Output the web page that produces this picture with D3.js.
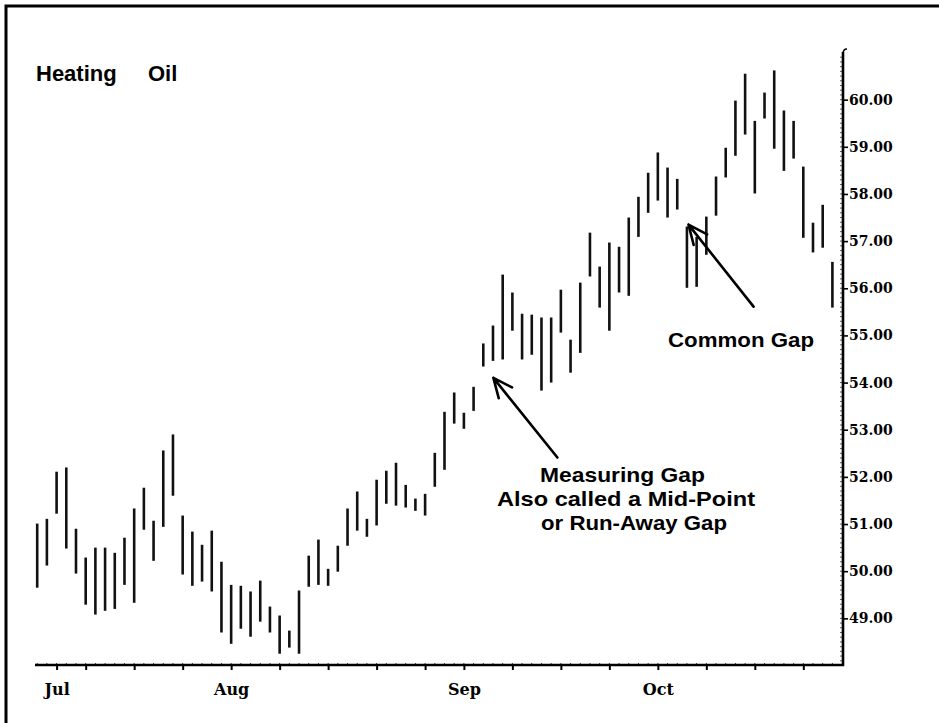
<!DOCTYPE html>
<html>
<head>
<meta charset="utf-8">
<script src="https://cdn.jsdelivr.net/npm/d3@7"></script>
<style>
  html, body { margin: 0; padding: 0; background: #fff; }
  svg { display: block; }
</style>
</head>
<body>
<svg id="chart" width="939" height="723"></svg>
<script>
// ---- data ----
const title = ["Heating", "Oil"];
const highs = [51.01,51.11,52.11,52.20,50.90,50.29,50.50,50.50,50.39,50.71,
               51.33,51.77,51.07,52.56,52.90,51.18,50.84,50.56,50.86,50.20,
               49.71,49.69,49.57,49.80,49.25,49.06,48.74,49.59,50.33,50.67,
               50.05,50.54,51.33,51.69,51.11,51.94,52.13,52.30,51.83,51.54,
               51.64,52.51,53.38,53.79,53.36,53.91,54.83,55.21,56.29,55.91,
               55.46,55.44,55.38,55.38,55.97,54.91,56.12,57.18,56.46,56.97,
               56.88,57.50,57.94,58.45,58.88,58.56,58.32,57.31,57.09,57.52,
               58.37,58.98,59.98,60.55,59.55,60.15,60.62,59.77,59.55,58.58,
               57.39,57.77,56.56];
const lows  = [49.65,50.12,51.22,50.48,49.95,49.29,49.08,49.16,49.20,49.71,
               49.33,50.88,50.22,50.94,51.60,49.93,49.69,49.78,49.57,48.70,
               48.46,48.78,48.61,48.93,48.70,48.25,48.38,48.25,49.67,49.71,
               49.69,49.99,50.54,50.86,50.73,50.97,51.43,51.39,51.35,51.28,
               51.18,51.79,52.15,53.13,53.02,53.40,54.34,54.46,54.49,55.10,
               54.49,54.59,53.83,54.00,55.06,54.21,54.63,56.25,55.59,55.10,
               55.91,55.84,57.09,57.60,57.86,57.50,57.67,56.01,56.03,56.71,
               57.54,58.35,58.81,59.26,58.01,59.60,58.96,58.49,58.75,57.07,
               56.76,56.86,55.59];
const yTickValues = [49,50,51,52,53,54,55,56,57,58,59,60];
const xTickIndex  = [2,5,10,15,20,25,30,35,40,44,49,54,59,64,69,74,79];
const monthIndex  = [2,20,44,64];
const monthLabels = ["Jul","Aug","Sep","Oct"];
const measuringLines = ["Measuring Gap","Also called a Mid-Point","or Run-Away Gap"];
const commonLabel = "Common Gap";
// arrow anchor values: [barIndex, price] for tail and tip
const measuringArrow = {tail:[53.64,52.41], tip:[47.04,54.10]};
const commonArrow    = {tail:[73.87,55.61], tip:[67.16,57.35]};

// ---- scales ----
const svg = d3.select("#chart");
const x = d3.scaleLinear().domain([0, highs.length - 1]).range([37.2, 832.4]);
const y = d3.scaleLinear().domain([48, 61]).range([665.5, 52.5]);
const axisX = 843, axisY = 665;

// frame
svg.append("rect").attr("x", 6).attr("y", 6).attr("width", 960).attr("height", 760)
  .attr("fill", "none").attr("stroke", "#000").attr("stroke-width", 3);

// bars
const bars = highs.map((h, i) => ({i, h, l: lows[i]}));
svg.append("g").selectAll("line").data(bars).join("line")
  .attr("x1", d => x(d.i)).attr("x2", d => x(d.i))
  .attr("y1", d => y(d.h)).attr("y2", d => y(d.l))
  .attr("stroke", "#111").attr("stroke-width", 2.6);

// right axis
const yAxis = d3.axisRight(y).tickValues(yTickValues).tickSize(5).tickPadding(1)
  .tickFormat(d3.format(".2f"));
const gy = svg.append("g").attr("transform", `translate(${axisX},0)`).call(yAxis);
gy.select(".domain").remove();
gy.selectAll(".tick line").attr("stroke", "#000").attr("stroke-width", 1.6);
gy.selectAll(".tick text").attr("font-family", "'DejaVu Serif', serif")
  .attr("font-weight", "bold").attr("font-size", 14).attr("fill", "#000");
// minor hatch on right axis
const minor = d3.range(48.1, 61, 0.1);
svg.append("g").selectAll("line").data(minor).join("line")
  .attr("x1", axisX - 3).attr("x2", axisX)
  .attr("y1", d => y(d)).attr("y2", d => y(d))
  .attr("stroke", "#333").attr("stroke-width", 0.8);
svg.append("line").attr("x1", axisX).attr("x2", axisX).attr("y1", 52).attr("y2", axisY + 1)
  .attr("stroke", "#000").attr("stroke-width", 2.6);
svg.append("path").attr("d", `M${axisX},54 q0,-5 4,-5`).attr("fill", "none")
  .attr("stroke", "#000").attr("stroke-width", 1.5);

// bottom axis
const xAxis = d3.axisBottom(x).tickValues(xTickIndex).tickSize(5)
  .tickFormat(d => { const k = monthIndex.indexOf(d); return k >= 0 ? monthLabels[k] : ""; });
const gx = svg.append("g").attr("transform", `translate(0,${axisY})`).call(xAxis);
gx.select(".domain").remove();
gx.selectAll(".tick line").attr("stroke", "#000").attr("stroke-width", 2);
gx.selectAll(".tick text").attr("font-family", "'DejaVu Serif', serif")
  .attr("font-weight", "bold").attr("font-size", 16).attr("fill", "#000")
  .attr("dy", "1.35em");
svg.append("g").selectAll("line").data(d3.range(highs.length)).join("line")
  .attr("x1", d => x(d)).attr("x2", d => x(d)).attr("y1", axisY - 2).attr("y2", axisY)
  .attr("stroke", "#444").attr("stroke-width", 1);
svg.append("line").attr("x1", 35).attr("x2", axisX + 1).attr("y1", axisY).attr("y2", axisY)
  .attr("stroke", "#000").attr("stroke-width", 2.6);

// title
const t = svg.append("text").attr("y", 81).attr("font-family", "'Liberation Sans', Arial, sans-serif")
  .attr("font-weight", "bold").attr("font-size", 22).attr("fill", "#000");
t.append("tspan").attr("x", 36).text(title[0]);
t.append("tspan").attr("x", 148).text(title[1]);

// annotations
const annFont = "'Liberation Sans', Arial, sans-serif";
const lefts = [540, 497, 541];
const widths = [165, 258, 186];
svg.append("g").selectAll("text").data(measuringLines).join("text")
  .attr("x", (d, i) => lefts[i]).attr("y", (d, i) => 482 + i * 24)
  .attr("font-family", annFont)
  .attr("font-weight", "bold").attr("font-size", 20.5).attr("fill", "#000")
  .attr("textLength", (d, i) => widths[i]).attr("lengthAdjust", "spacingAndGlyphs")
  .text(d => d);
svg.append("text").attr("x", 668).attr("y", 347)
  .attr("font-family", annFont).attr("font-weight", "bold").attr("font-size", 21)
  .attr("textLength", 146).attr("lengthAdjust", "spacingAndGlyphs")
  .attr("fill", "#000").text(commonLabel);

function arrow(a) {
  const x1 = x(a.tail[0]), y1 = y(a.tail[1]), x2 = x(a.tip[0]), y2 = y(a.tip[1]);
  const ang = Math.atan2(y1 - y2, x1 - x2);
  const L = 21, spread = 0.42;
  const p1 = [x2 + L * Math.cos(ang + spread), y2 + L * Math.sin(ang + spread)];
  const p2 = [x2 + L * Math.cos(ang - spread), y2 + L * Math.sin(ang - spread)];
  svg.append("path")
    .attr("d", `M${x1},${y1}L${x2},${y2}M${p1[0]},${p1[1]}L${x2},${y2}L${p2[0]},${p2[1]}`)
    .attr("fill", "none").attr("stroke", "#000").attr("stroke-width", 2.6)
    .attr("stroke-linecap", "round").attr("stroke-linejoin", "round");
}
arrow(measuringArrow);
arrow(commonArrow);
</script>
</body>
</html>
